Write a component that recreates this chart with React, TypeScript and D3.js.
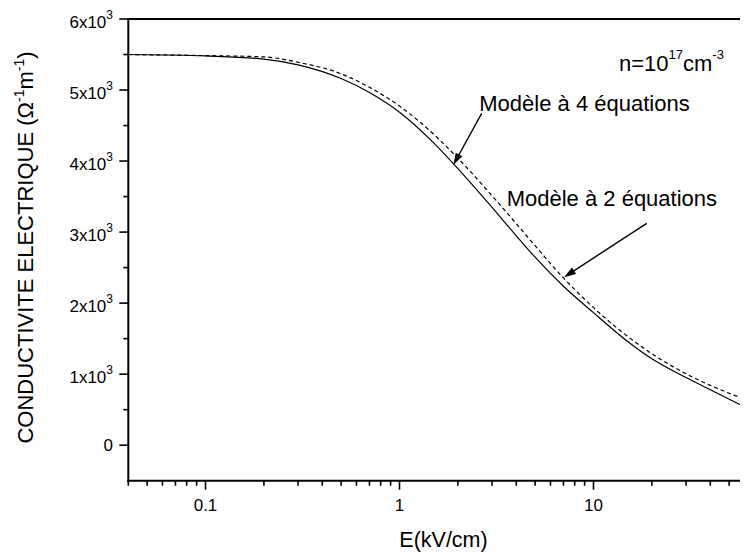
import React from "react";
import * as d3 from "d3";

// Electric field (kV/cm) sampling points
const fieldKVcm = [0.04, 0.1, 0.2, 0.3, 0.5, 0.7, 1, 1.5, 2, 3, 4, 5, 7, 10, 15, 20, 30, 40, 60, 70];
// Conductivity (Ω⁻¹m⁻¹), four-equation model (solid)
const sigmaFourEq = [5500, 5480, 5436, 5355, 5162, 4965, 4688, 4257, 3894, 3348, 2948, 2647, 2238, 1866, 1461, 1217, 952, 781, 540, 450];
// Conductivity (Ω⁻¹m⁻¹), two-equation model (dashed)
const sigmaTwoEq = [5500, 5485, 5466, 5391, 5228, 5038, 4774, 4378, 4040, 3512, 3118, 2808, 2355, 1936, 1531, 1287, 1005, 842, 648, 581];

const yMajorTicks = [0, 1000, 2000, 3000, 4000, 5000, 6000];
const xMajorTicks = [0.1, 1, 10];
const xTickLabels = ["0.1", "1", "10"];

const W = 740;
const H = 545;
const FONT = "'Liberation Sans', Arial, Helvetica, sans-serif";

const left = 120.3;
const top = 11;
const bottom = 472.7;

const x = d3.scaleLog().domain([0.04, 100]).range([left, left + Math.log10(100 / 0.04) * 194]);
const y = d3.scaleLinear().domain([-500, 6000]).range([bottom, top]);

function Arrow({ x1, y1, x2, y2 }: { x1: number; y1: number; x2: number; y2: number }) {
  const dx = x2 - x1;
  const dy = y2 - y1;
  const len = Math.hypot(dx, dy);
  const ux = dx / len;
  const uy = dy / len;
  const hl = 12;
  const hw = 3.8;
  const bx = x2 - ux * hl;
  const by = y2 - uy * hl;
  const pts = [
    [x2, y2],
    [bx - uy * hw, by + ux * hw],
    [bx + uy * hw, by - ux * hw],
  ]
    .map((p) => p.join(","))
    .join(" ");
  return (
    <g>
      <line x1={x1} y1={y1} x2={bx + ux * 2} y2={by + uy * 2} stroke="#000" strokeWidth={1.4} />
      <polygon points={pts} fill="#000" />
    </g>
  );
}

export default function App() {
  const line = d3
    .line<number>()
    .x((_, i) => x(fieldKVcm[i]))
    .y((d) => y(d))
    .curve(d3.curveMonotoneX);

  const yMinor = d3.range(-500, 6001, 500).filter((v) => v % 1000 !== 0 && v > -500);
  const xMinor: number[] = [];
  for (let dec = 0.01; dec < 100; dec *= 10) {
    for (let k = 2; k <= 9; k++) {
      const v = +(k * dec).toPrecision(3);
      if (v >= 0.04 && v <= 100) xMinor.push(v);
    }
  }

  return (
    <svg width={W} height={H} style={{ display: "block" }} fontFamily={FONT}>
      <defs>
        <clipPath id="plotArea">
          <rect x={left} y={top} width={W - left} height={bottom - top} />
        </clipPath>
      </defs>

      {/* curves */}
      <g clipPath="url(#plotArea)" fill="none" stroke="#000">
        <path d={line(sigmaTwoEq) || ""} strokeWidth={1.2} strokeDasharray="4,3" />
        <path d={line(sigmaFourEq) || ""} strokeWidth={1.2} />
      </g>

      {/* frame */}
      <line x1={left} y1={top} x2={W} y2={top} stroke="#000" strokeWidth={2} />
      <line x1={left} y1={top - 1} x2={left} y2={bottom + 1} stroke="#000" strokeWidth={2} />
      <line x1={left - 1} y1={bottom} x2={W} y2={bottom} stroke="#000" strokeWidth={2} />

      {/* y ticks */}
      {yMajorTicks.map((v) => (
        <g key={"ym" + v}>
          <line x1={left - 9} x2={left} y1={y(v)} y2={y(v)} stroke="#000" strokeWidth={1.6} />
          {v === 0 ? (
            <text x={105} y={y(v) + 6} fontSize={17} textAnchor="end">
              0
            </text>
          ) : (
            <text x={105} y={y(v) + 9} fontSize={17} textAnchor="end">
              {`${v / 1000}x10`}
              <tspan fontSize={12} dy={-9}>
                3
              </tspan>
            </text>
          )}
        </g>
      ))}
      {yMinor.map((v) => (
        <line key={"yn" + v} x1={left - 5} x2={left} y1={y(v)} y2={y(v)} stroke="#000" strokeWidth={1.6} />
      ))}

      {/* x ticks */}
      {xMajorTicks.map((v, i) => (
        <g key={"xm" + v}>
          <line x1={x(v)} x2={x(v)} y1={bottom} y2={bottom + 9} stroke="#000" strokeWidth={1.6} />
          <text x={x(v)} y={bottom + 30} fontSize={17} textAnchor="middle">
            {xTickLabels[i]}
          </text>
        </g>
      ))}
      {xMinor.map((v) => (
        <line key={"xn" + v} x1={x(v)} x2={x(v)} y1={bottom} y2={bottom + 5} stroke="#000" strokeWidth={1.6} />
      ))}

      {/* axis titles */}
      <text x={435.5} y={539.3} fontSize={21.5} textAnchor="middle">
        E(kV/cm)
      </text>
      <text transform="translate(25,239.5) rotate(-90)" fontSize={22} textAnchor="middle">
        CONDUCTIVITE ELECTRIQUE (Ω
        <tspan fontSize={14} dy={-9}>
          -1
        </tspan>
        <tspan dy={9}>m</tspan>
        <tspan fontSize={14} dy={-9}>
          -1
        </tspan>
        <tspan dy={9}>)</tspan>
      </text>

      {/* annotations */}
      <text x={611} y={62.7} fontSize={22}>
        n=10
        <tspan fontSize={13} dy={-12}>
          17
        </tspan>
        <tspan dy={12}>cm</tspan>
        <tspan fontSize={13} dy={-12}>
          -3
        </tspan>
      </text>
      <text x={471.3} y={103} fontSize={22}>
        Modèle à 4 équations
      </text>
      <text x={498.7} y={197.7} fontSize={22}>
        Modèle à 2 équations
      </text>
      <Arrow x1={473.7} y1={105.3} x2={445.3} y2={157} />
      <Arrow x1={638.7} y1={215.3} x2={556} y2={269.3} />
    </svg>
  );
}
